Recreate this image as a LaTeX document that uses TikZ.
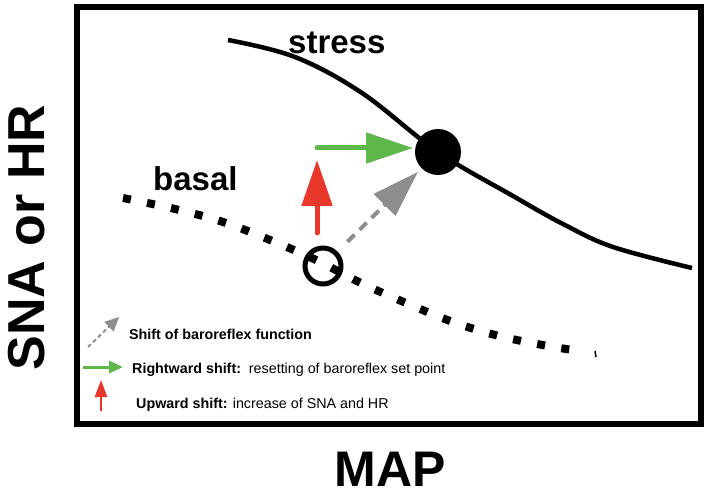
\documentclass[tikz,border=0pt]{standalone}
\usepackage{fontspec}
\setmainfont{Liberation Sans}
\usetikzlibrary{arrows.meta}
\definecolor{myred}{HTML}{E8382B}
\definecolor{mygreen}{HTML}{5DB749}
\definecolor{mygray}{HTML}{8E8E8E}
\tikzset{
  frame/.style={line width=6pt},
  stresscurve/.style={line width=4.5pt},
  basalcurve/.style={line width=8pt, dash pattern=on 8pt off 16.5pt},
  redarrow/.style={myred, line width=5pt, line cap=round, -{Triangle[length=46pt,width=30pt]}},
  greenarrow/.style={mygreen, line width=5pt, line cap=round, -{Triangle[length=47pt,width=30pt]}},
  grayarrow/.style={mygray, line width=4pt, dash pattern=on 10pt off 7pt, -{Triangle[length=47pt,width=30pt]}},
  lgray/.style={mygray, line width=2pt, dash pattern=on 4pt off 3pt, -{Triangle[length=14pt,width=13pt]}},
  lgreen/.style={mygreen, line width=3pt, -{Triangle[length=14pt,width=12pt]}},
  lred/.style={myred, line width=2.5pt, -{Triangle[length=17pt,width=12pt]}},
  bigtext/.style={font=\fontsize{33}{40}\selectfont\bfseries, inner sep=0pt, anchor=base west},
  legtext/.style={font=\fontsize{14.3}{17}\selectfont, inner sep=0pt, anchor=base west},
}
\begin{document}
\begin{tikzpicture}[x=1pt,y=-1pt]
\useasboundingbox (0,0) rectangle (709,497);
\fill[white] (0,0) rectangle (709,497);
% frame
\draw[frame] (77,7) rectangle (701,423.5);
% axis labels
\node[font=\fontsize{52}{60}\selectfont\bfseries, inner sep=0pt, anchor=base, rotate=90] (ylab) at (44,237.5) {SNA or HR};
\node[font=\fontsize{50}{60}\selectfont\bfseries, inner sep=0pt, anchor=base] (xlab) at (390,486) {MAP};
% curves
\draw[stresscurve] plot[smooth, tension=0.6] coordinates {(228,40) (295,57) (362,93) (438,152) (513,196) (563,224) (613,247) (692,268)};
\draw[basalcurve] plot[smooth, tension=0.6] coordinates {(123,198) (175,209) (223,222) (270,240) (316,260) (361,283) (406,303) (453,322) (499,336) (548,346) (580,351)};
\draw[line width=1.5pt] (595,351) -- (596,357);
% labels
\node[bigtext] (stress) at (288,54) {stress};
\node[bigtext] (basal) at (153,191) {basal};
% points
\node[circle, fill=black, minimum size=46pt, inner sep=0pt] (dot) at (438,152) {};
\node[circle, draw=black, line width=5pt, minimum size=36pt, inner sep=0pt] (open) at (323,266) {};
% arrows
\coordinate (rs) at (317,233);
\coordinate (re) at (317,160);
\coordinate (gs) at (317,148);
\coordinate (ge) at (413,148);
\draw[redarrow] (rs) -- (re);
\draw[greenarrow] (gs) -- (ge);
\draw[grayarrow, shorten <=14pt, shorten >=5pt] (open) -- (dot);
% legend
\coordinate (l1s) at (88,347);
\coordinate (l1e) at (119,317);
\coordinate (l2s) at (83,367);
\coordinate (l2e) at (123,367);
\coordinate (l3s) at (101,411);
\coordinate (l3e) at (101,380);
\draw[lgray] (l1s) -- (l1e);
\draw[lgreen] (l2s) -- (l2e);
\draw[lred] (l3s) -- (l3e);
\node[legtext] (t1) at (129,339) {\bfseries Shift of baroreflex function};
\node[legtext] (t2) at (132,373) {\textbf{Rightward shift:}\ \ resetting of baroreflex set point};
\node[legtext] (t3) at (136,408) {\textbf{Upward shift:} increase of SNA and HR};
\end{tikzpicture}
\end{document}
